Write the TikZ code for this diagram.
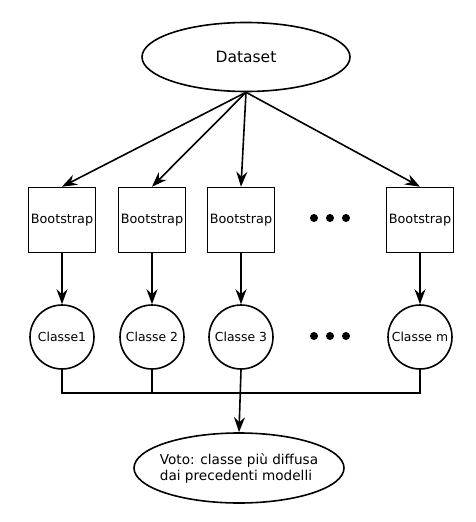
\documentclass[tikz,border=0pt]{standalone}
\usepackage{fontspec}
\setmainfont{DejaVu Sans}
\usepackage{tikz}
\usetikzlibrary{calc}
\usetikzlibrary{shapes}
\usetikzlibrary{arrows.meta}

\begin{document}
\begin{tikzpicture}[x=1pt,y=-1pt,line width=1.6pt,
    arr/.style={-{Stealth[length=15pt,width=11pt,inset=5pt]}},
    bootbox/.style={draw,rectangle,minimum width=67pt,minimum height=65pt,inner sep=0pt,
      font=\fontsize{12.8}{15}\selectfont},
    classnode/.style={draw,circle,minimum size=64pt,inner sep=0pt,
      font=\fontsize{12.4}{15}\selectfont},
    bigdot/.style={circle,fill=black,inner sep=0pt,minimum size=8pt}]
      \useasboundingbox (0,0) rectangle (475,522);
      \node[draw,ellipse,minimum width=208pt,minimum height=69pt,inner sep=0pt,
        font=\fontsize{15.5}{18}\selectfont] (data) at (246,57) {Dataset};
      \node[bootbox] (boot1) at (62,220) {Bootstrap};
      \node[bootbox] (boot2) at (152,220) {Bootstrap};
      \node[bootbox] (boot3) at (241,220) {Bootstrap};
      \node[bootbox] (boot4) at (420,220) {Bootstrap};
      \node[classnode] (cls1) at (62,337) {Classe1};
      \node[classnode] (cls2) at (152,337) {Classe 2};
      \node[classnode] (cls3) at (241,337) {Classe 3};
      \node[classnode] (cls4) at (420,337) {Classe m};
      \foreach \i in {0,16,32} {
        \node[bigdot] (dtop) at (314 + \i, 218) {};
        \node[bigdot] (dbot) at (314 + \i, 336) {};
      }
      \node[draw,ellipse,minimum width=210pt,minimum height=70pt,inner xsep=-6pt,inner ysep=0pt,
        font=\fontsize{13.6}{16}\selectfont,align=left] (vote) at (239,468)
        {Voto: classe più diffusa\\dai precedenti modelli};
      \coordinate (bus) at (241,393);
      \path[arr] (data.south) edge (boot1.north);
      \path[arr] (data.south) edge (boot2.north);
      \path[arr] (data.south) edge (boot3.north);
      \path[arr] (data.south) edge (boot4.north);
      \foreach \k in {1,2,3,4} {
        \path[arr] (boot\k.south) edge (cls\k.north);
      }
      \draw (cls1.south) -- (cls1.south |- bus) -- (cls4.south |- bus) -- (cls4.south);
      \draw (cls2.south) -- (cls2.south |- bus);
      \path[arr] (cls3.south) edge (vote.north);
    \end{tikzpicture}
\end{document}
